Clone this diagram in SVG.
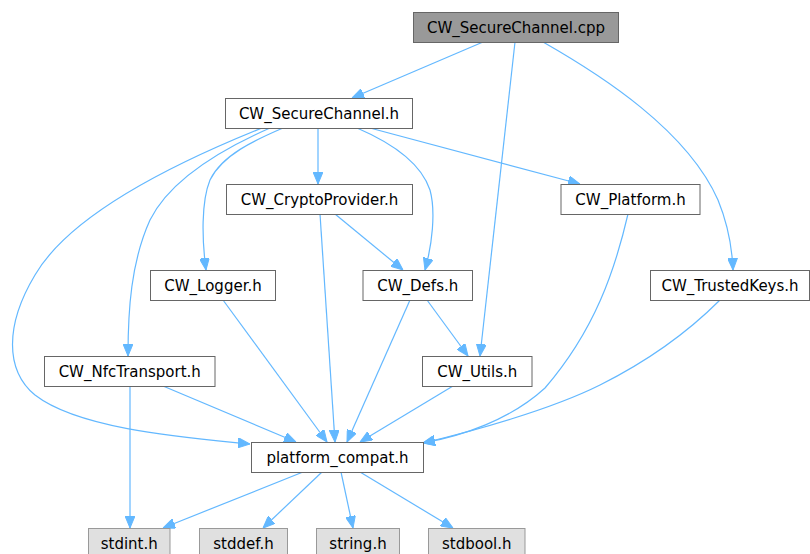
<svg xmlns="http://www.w3.org/2000/svg" width="810" height="554" viewBox="0 0 810 554">
<style>
.n rect{fill:#ffffff;stroke:#666666;stroke-width:1}
.n.root rect{fill:#999999;stroke:#666666}
.n.sys rect{fill:#e0e0e0;stroke:#999999}
.n text{font-family:"DejaVu Sans","Liberation Sans",sans-serif;font-size:15px;fill:#000000;text-anchor:middle}
.e path{fill:none;stroke:#63b8ff;stroke-width:1.2;marker-end:url(#ah)}
</style>
<defs>
<marker id="ah" viewBox="0 0 12 10" refX="12" refY="5" markerWidth="12" markerHeight="10" markerUnits="userSpaceOnUse" orient="auto">
<path d="M0,0 L12,5 L0,10 z" fill="#63b8ff" stroke="#63b8ff" stroke-width="1"/>
</marker>
</defs>
<rect width="810" height="554" fill="#ffffff"/>
<g id="edges" class="e">
<path d="M483,42 L352,98"/>
<path d="M515,42 L480,356"/>
<path d="M543,42 C601,75 687,130 718,200 C727,222 732,245 733,270"/>
<path d="M318,128 L318,184"/>
<path d="M370,128 L580,184"/>
<path d="M357,128 C385,140 420,160 430,190 C436,212 432,245 425,270"/>
<path d="M283,128 C255,140 222,155 210,180 C201,202 202,240 206,270"/>
<path d="M270,128 C220,150 170,180 150,220 C131,262 128,310 128,356"/>
<path d="M262,128 C170,165 70,215 35,275 C5,325 5,370 35,395 C80,430 190,438 250,444"/>
<path d="M320,214 L335,442"/>
<path d="M335,214 L403,270"/>
<path d="M223,300 L327,442"/>
<path d="M410,300 L347,442"/>
<path d="M427,300 L468,356"/>
<path d="M163,386 L296,442"/>
<path d="M130,386 L130,528"/>
<path d="M453,386 L360,442"/>
<path d="M628,214 C615,270 595,330 545,388 C510,420 462,436 423,443"/>
<path d="M720,300 C690,330 650,360 600,385 C550,410 470,432 423,443"/>
<path d="M303,472 L163,528"/>
<path d="M322,472 L263,528"/>
<path d="M341,472 L353,528"/>
<path d="M360,472 L453,528"/>
</g>
<g id="cpp" class="n root"><rect x="413.5" y="12.5" width="205" height="30"/><text x="516" y="32.5">CW_SecureChannel.cpp</text></g>
<g id="securechannel_h" class="n"><rect x="225.5" y="98.5" width="187" height="30"/><text x="319" y="118.5">CW_SecureChannel.h</text></g>
<g id="cryptoprovider_h" class="n"><rect x="226.5" y="184.5" width="186" height="30"/><text x="319.5" y="204.5">CW_CryptoProvider.h</text></g>
<g id="platform_h" class="n"><rect x="561" y="184.5" width="139" height="30"/><text x="630.5" y="204.5">CW_Platform.h</text></g>
<g id="logger_h" class="n"><rect x="150.5" y="270.5" width="125" height="30"/><text x="213" y="290.5">CW_Logger.h</text></g>
<g id="defs_h" class="n"><rect x="363" y="270.5" width="109.5" height="30"/><text x="417.75" y="290.5">CW_Defs.h</text></g>
<g id="trustedkeys_h" class="n"><rect x="650.5" y="270.5" width="159" height="30"/><text x="730" y="290.5">CW_TrustedKeys.h</text></g>
<g id="nfctransport_h" class="n"><rect x="44.5" y="356.5" width="170.5" height="30"/><text x="129.75" y="376.5">CW_NfcTransport.h</text></g>
<g id="utils_h" class="n"><rect x="422.5" y="356.5" width="109.5" height="30"/><text x="477.25" y="376.5">CW_Utils.h</text></g>
<g id="platform_compat_h" class="n"><rect x="251.5" y="442.5" width="172" height="30"/><text x="337.5" y="462.5">platform_compat.h</text></g>
<g id="stdint_h" class="n sys"><rect x="88.5" y="528.5" width="81.5" height="30"/><text x="129.25" y="548.5">stdint.h</text></g>
<g id="stddef_h" class="n sys"><rect x="199.5" y="528.5" width="88" height="30"/><text x="243.5" y="548.5">stddef.h</text></g>
<g id="string_h" class="n sys"><rect x="316.5" y="528.5" width="83" height="30"/><text x="358" y="548.5">string.h</text></g>
<g id="stdbool_h" class="n sys"><rect x="428.5" y="528.5" width="96.5" height="30"/><text x="476.75" y="548.5">stdbool.h</text></g>
</svg>
